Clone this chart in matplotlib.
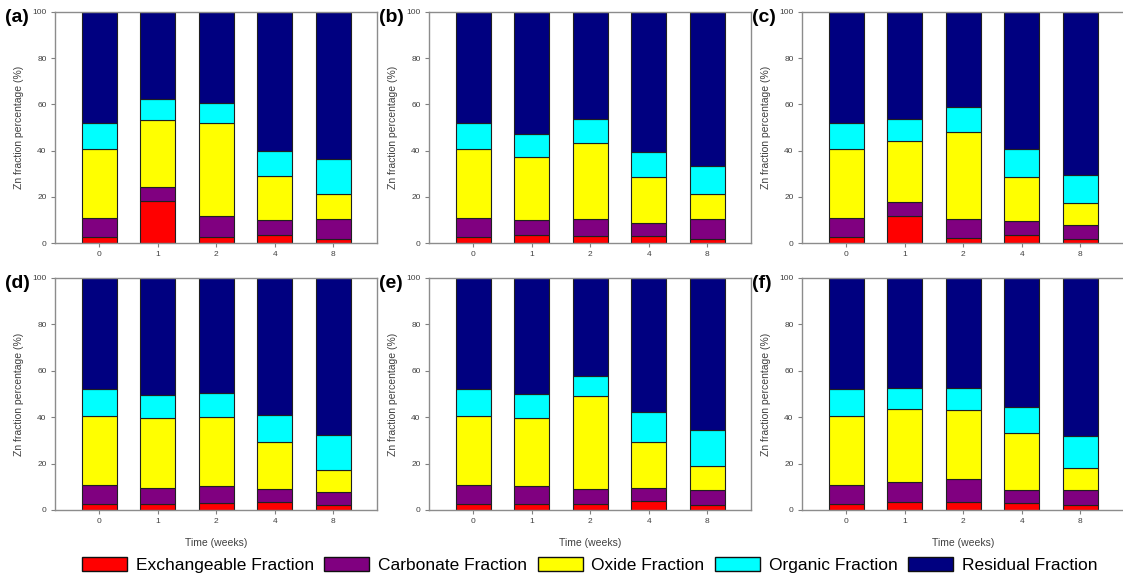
"""
Zn fraction (sequential extraction) over time, 6 treatments (a)-(f).
Stacked bars: exchangeable / carbonate / oxide / organic / residual.
"""
import numpy as np
import matplotlib
matplotlib.use('Agg')
import matplotlib.pyplot as plt
from matplotlib.patches import Patch

plt.rcParams['font.family'] = ['Liberation Sans', 'DejaVu Sans']

WEEKS = ['0', '1', '2', '4', '8']
FRACTIONS = ['Exchangeable Fraction', 'Carbonate Fraction', 'Oxide Fraction',
             'Organic Fraction', 'Residual Fraction']
COLORS = ['#ff0000', '#800080', '#ffff00', '#00ffff', '#000080']

# rows = fractions (same order as FRACTIONS), cols = weeks
PANEL_A = [[2.7, 18.0, 2.6, 3.6, 1.7],
           [8.0, 6.2, 9.2, 6.2, 8.8],
           [29.9, 29.0, 40.3, 19.0, 10.8],
           [11.5, 9.0, 8.5, 11.2, 15.1],
           [47.9, 37.8, 39.4, 60.0, 63.6]]
PANEL_B = [[2.7, 3.6, 2.9, 2.9, 1.7],
           [8.0, 6.2, 7.6, 5.7, 8.8],
           [29.9, 27.6, 32.7, 19.9, 10.7],
           [11.5, 9.7, 10.3, 10.8, 12.0],
           [47.9, 52.9, 46.5, 60.7, 66.8]]
PANEL_C = [[2.7, 11.5, 2.3, 3.5, 1.7],
           [8.0, 6.1, 8.1, 5.9, 5.9],
           [29.9, 26.4, 37.5, 19.1, 9.8],
           [11.5, 9.8, 11.1, 12.4, 12.0],
           [47.9, 46.2, 41.0, 59.1, 70.6]]
PANEL_D = [[2.7, 2.7, 3.2, 3.6, 2.0],
           [8.0, 6.9, 7.0, 5.6, 5.9],
           [29.9, 30.1, 30.1, 20.2, 9.2],
           [11.5, 9.9, 10.2, 11.6, 15.1],
           [47.9, 50.4, 49.5, 59.0, 67.8]]
PANEL_E = [[2.7, 2.7, 2.7, 3.7, 2.0],
           [8.0, 7.7, 6.4, 5.8, 6.8],
           [29.9, 29.3, 40.0, 19.6, 10.0],
           [11.5, 10.2, 8.5, 13.1, 15.6],
           [47.9, 50.1, 42.4, 57.8, 65.6]]
PANEL_F = [[2.7, 3.6, 3.6, 3.2, 2.0],
           [8.0, 8.5, 9.8, 5.3, 6.5],
           [29.9, 31.4, 29.9, 24.5, 9.8],
           [11.5, 9.0, 9.5, 11.6, 13.6],
           [47.9, 47.5, 47.2, 55.4, 68.1]]

PANELS = [('(a)', PANEL_A), ('(b)', PANEL_B), ('(c)', PANEL_C),
          ('(d)', PANEL_D), ('(e)', PANEL_E), ('(f)', PANEL_F)]

W, H = 1123, 578
LEFTS = [55, 429, 802]          # axes left edge, px
ROWS = [(12, 243), (278, 510)]  # (top, bottom), px
AX_W = 322

fig = plt.figure(figsize=(W / 100, H / 100), dpi=100)
x = np.arange(len(WEEKS))

for i, (lab, vals) in enumerate(PANELS):
    r, c = divmod(i, 3)
    top, bot = ROWS[r]
    ax = fig.add_axes([LEFTS[c] / W, 1 - bot / H, AX_W / W, (bot - top) / H])
    vals = np.array(vals)
    base = np.zeros(len(WEEKS))
    for k in range(len(FRACTIONS)):
        ax.bar(x, vals[k], 0.6, bottom=base, color=COLORS[k],
               edgecolor='#202020', lw=0.8, zorder=2)
        base += vals[k]
    ax.set_xlim(-0.76, 4.75)
    ax.set_ylim(0, 100)
    ax.set_xticks(x)
    ax.set_xticklabels(WEEKS)
    ax.set_yticks(np.arange(0, 101, 20))
    ax.tick_params(axis='both', labelsize=6, colors='#808080',
                   labelcolor='#404040', length=3, width=0.8, pad=3)
    for s in ax.spines.values():
        s.set_color('#8c8c8c'); s.set_linewidth(1.0)
    ax.set_ylabel('Zn fraction percentage (%)', fontsize=7.5,
                  color='#404040', labelpad=6)
    if r == 1:
        ax.set_xlabel('Time (weeks)', fontsize=7.5, color='#404040', labelpad=9)
    fig.text((LEFTS[c] - 50) / W, 1 - (top + 5) / H, lab, fontsize=14,
             fontweight='bold', ha='left', va='center')

handles = [Patch(facecolor=COLORS[k], edgecolor='#101010', lw=1.0,
                 label=FRACTIONS[k]) for k in range(len(FRACTIONS))]
fig.legend(handles=handles, loc='center', bbox_to_anchor=(0.525, 0.022),
           ncol=5, frameon=False, fontsize=12.5, handlelength=2.6,
           handleheight=0.85, handletextpad=0.5, columnspacing=0.6,
           borderaxespad=0)

plt.savefig('out.png', dpi=100)
plt.close(fig)
